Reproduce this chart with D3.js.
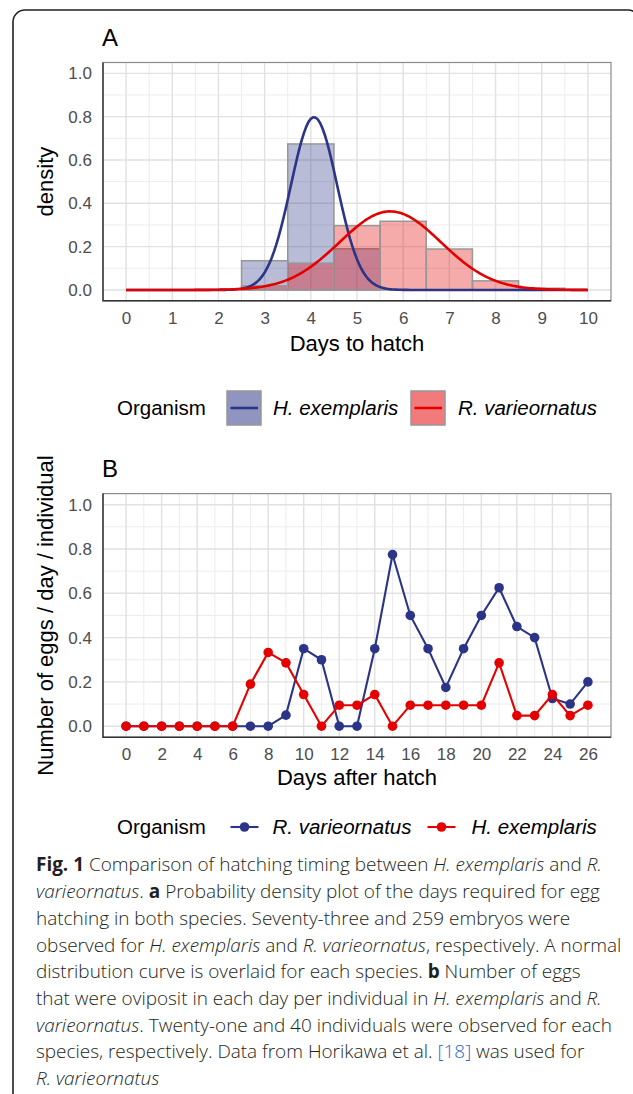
<!DOCTYPE html>
<html>
<head>
<meta charset="utf-8">
<script src="https://cdn.jsdelivr.net/npm/d3@7"></script>
<style>
body{margin:0;background:#fff;}
svg{display:block;}
</style>
</head>
<body>
<svg id="fig" width="633" height="1094"></svg>
<script>
// panel A: histogram bins (centre of each 1-day bin) and densities
var histBins = [3, 4, 5, 6, 7, 8, 9];
var hexDensity = [0.135, 0.674, 0.19, 0, 0, 0, 0];
var rvaDensity = [0.019, 0.124, 0.297, 0.317, 0.189, 0.042, 0.008];
// fitted normal curves (mean, sd): [H. exemplaris, R. varieornatus]
var curveMean = [4.07, 5.72];
var curveSd = [0.5, 1.1];
var ticksA = [0, 1, 2, 3, 4, 5, 6, 7, 8, 9, 10];

// panel B: eggs per day per individual
var days = [0,1,2,3,4,5,6,7,8,9,10,11,12,13,14,15,16,17,18,19,20,21,22,23,24,25,26];
var rvaEggs = [0,0,0,0,0,0,0,0,0,0.05,0.35,0.30,0,0,0.35,0.775,0.50,0.35,0.175,0.35,0.50,0.625,0.45,0.40,0.125,0.10,0.20];
var hexEggs = [0,0,0,0,0,0,0,0.19,0.333,0.286,0.143,0,0.095,0.095,0.143,0,0.095,0.095,0.095,0.095,0.095,0.286,0.048,0.048,0.143,0.048,0.095];
var ticksB = [0, 2, 4, 6, 8, 10, 12, 14, 16, 18, 20, 22, 24, 26];
var ticksY = [0, 0.2, 0.4, 0.6, 0.8, 1.0];

var navy = "#2b3486";
var red = "#e50000";
var font = "'Liberation Sans', Arial, sans-serif";

var svg = d3.select("#fig");

// outer frame of the figure
svg.append("rect")
	.attr("x", 13).attr("y", 10)
	.attr("width", 627).attr("height", 1120)
	.attr("rx", 12)
	.attr("fill", "none")
	.attr("stroke", "#231f20")
	.attr("stroke-width", 1.6);

function drawGrid(x, y, xMajor, xMinor, yMajor, yMinor){
	var x0 = x.range()[0], x1 = x.range()[1];
	var y0 = y.range()[0], y1 = y.range()[1];
	var g = svg.append("g");
	g.append("rect").attr("x", x0).attr("y", y1).attr("width", x1-x0).attr("height", y0-y1).attr("fill", "#fff");
	g.selectAll(".vminor").data(xMinor).enter().append("line")
		.attr("x1", d => x(d)).attr("x2", d => x(d)).attr("y1", y0).attr("y2", y1)
		.attr("stroke", "#ececec").attr("stroke-width", 1);
	g.selectAll(".hminor").data(yMinor).enter().append("line")
		.attr("y1", d => y(d)).attr("y2", d => y(d)).attr("x1", x0).attr("x2", x1)
		.attr("stroke", "#ececec").attr("stroke-width", 1);
	g.selectAll(".vmajor").data(xMajor).enter().append("line")
		.attr("x1", d => x(d)).attr("x2", d => x(d)).attr("y1", y0).attr("y2", y1)
		.attr("stroke", "#e1e1e1").attr("stroke-width", 1.4);
	g.selectAll(".hmajor").data(yMajor).enter().append("line")
		.attr("y1", d => y(d)).attr("y2", d => y(d)).attr("x1", x0).attr("x2", x1)
		.attr("stroke", "#e1e1e1").attr("stroke-width", 1.4);
}

function drawAxes(x, y, xTicks, xFmt){
	var x0 = x.range()[0], x1 = x.range()[1];
	var y0 = y.range()[0], y1 = y.range()[1];
	svg.append("rect").attr("x", x0).attr("y", y1).attr("width", x1-x0).attr("height", y0-y1)
		.attr("fill", "none").attr("stroke", "#8c8c8c").attr("stroke-width", 1.2);
	svg.append("path").attr("d", "M" + x0 + "," + y1 + "V" + y0 + "H" + x1)
		.attr("fill", "none").attr("stroke", "#333").attr("stroke-width", 1.4);
	var ya = svg.append("g").attr("transform", "translate(" + x0 + ",0)")
		.call(d3.axisLeft(y).tickValues(ticksY).tickFormat(d3.format(".1f")).tickSize(0).tickPadding(11));
	var xa = svg.append("g").attr("transform", "translate(0," + y0 + ")")
		.call(d3.axisBottom(x).tickValues(xTicks).tickFormat(xFmt).tickSize(0).tickPadding(11));
	[ya, xa].forEach(function(a){
		a.select(".domain").remove();
		a.selectAll("text").style("font-family", font).style("font-size", "17px").attr("fill", "#4d4d4d");
	});
}

function label(txt, x, y, size, rotate){
	var t = svg.append("text").text(txt)
		.attr("font-family", font).attr("font-size", size).attr("fill", "#000");
	if (rotate){
		t.attr("text-anchor", "middle").attr("transform", "translate(" + x + "," + y + ") rotate(-90)");
	} else {
		t.attr("x", x).attr("y", y);
	}
	return t;
}

// ---------------- panel A ----------------
var xA = d3.scaleLinear().domain([-0.5, 10.5]).range([103, 611]);
var yA = d3.scaleLinear().domain([-0.05, 1.05]).range([300.8, 62.5]);

drawGrid(xA, yA, ticksA, ticksA.slice(0, -1).map(d => d + 0.5), ticksY, [0.1, 0.3, 0.5, 0.7, 0.9]);

function bars(vals, col){
	var rows = histBins.map((b, i) => ({b: b, v: vals[i]})).filter(d => d.v > 0);
	svg.append("g").selectAll("rect").data(rows).enter().append("rect")
		.attr("x", d => xA(d.b - 0.5))
		.attr("width", d => xA(d.b + 0.5) - xA(d.b - 0.5))
		.attr("y", d => yA(d.v))
		.attr("height", d => yA(0) - yA(d.v))
		.attr("fill", col).attr("fill-opacity", 0.33)
		.attr("stroke", "#979797").attr("stroke-width", 1.5);
}
bars(hexDensity, navy);
bars(rvaDensity, red);

var xs = d3.range(0, 10.0001, 0.05);
function normal(m, s){
	return xs.map(v => [v, Math.exp(-0.5 * Math.pow((v - m) / s, 2)) / (s * Math.sqrt(2 * Math.PI))]);
}
var curveLine = d3.line().x(d => xA(d[0])).y(d => yA(d[1]));
[navy, red].forEach(function(c, i){
	svg.append("path").attr("d", curveLine(normal(curveMean[i], curveSd[i])))
		.attr("fill", "none").attr("stroke", c).attr("stroke-width", 2.6);
});

drawAxes(xA, yA, ticksA, d3.format("d"));
label("A", 102, 46, "24px");
label("density", 53, 181.6, "22px", true);
label("Days to hatch", 357, 351, "22px").attr("text-anchor", "middle");

// legend A
label("Organism", 117, 415, "20.5px");
[[227, navy, "H. exemplaris", 273], [411, red, "R. varieornatus", 458]].forEach(function(k){
	svg.append("rect").attr("x", k[0]).attr("y", 391).attr("width", 34).attr("height", 34)
		.attr("fill", k[1]).attr("fill-opacity", 0.52)
		.attr("stroke", "#979797").attr("stroke-width", 1.5);
	svg.append("line").attr("x1", k[0] + 3.5).attr("x2", k[0] + 31).attr("y1", 408).attr("y2", 408)
		.attr("stroke", k[1]).attr("stroke-width", 2.6);
	label(k[2], k[3], 415, "20.5px").attr("font-style", "italic");
});

// ---------------- panel B ----------------
var xB = d3.scaleLinear().domain([-1.3, 27.3]).range([103, 611]);
var yB = d3.scaleLinear().domain([-0.05, 1.05]).range([737.3, 493.6]);

drawGrid(xB, yB, ticksB, days.filter(d => d % 2 == 1), ticksY, [0.1, 0.3, 0.5, 0.7, 0.9]);

var eggLine = d3.line().x((d, i) => xB(days[i])).y(d => yB(d));
[[rvaEggs, navy], [hexEggs, red]].forEach(function(s){
	svg.append("path").attr("d", eggLine(s[0]))
		.attr("fill", "none").attr("stroke", s[1]).attr("stroke-width", 2.1);
	svg.append("g").selectAll("circle").data(s[0]).enter().append("circle")
		.attr("cx", (d, i) => xB(days[i])).attr("cy", d => yB(d)).attr("r", 4.8)
		.attr("fill", s[1]);
});

drawAxes(xB, yB, ticksB, d3.format("d"));
label("B", 102, 477, "24px");
label("Number of eggs / day / individual", 53, 615.5, "22px", true);
label("Days after hatch", 357, 785, "22px").attr("text-anchor", "middle");

// legend B
label("Organism", 117, 834, "20.5px");
[[230.5, navy, "R. varieornatus", 272.5], [427.5, red, "H. exemplaris", 471.5]].forEach(function(k){
	svg.append("line").attr("x1", k[0]).attr("x2", k[0] + 28).attr("y1", 827).attr("y2", 827)
		.attr("stroke", k[1]).attr("stroke-width", 2.1);
	svg.append("circle").attr("cx", k[0] + 14).attr("cy", 827).attr("r", 4.8).attr("fill", k[1]);
	label(k[2], k[3], 834, "20.5px").attr("font-style", "italic");
});

// ---------------- caption ----------------
var caption = [
	[["Fig. 1", "b"], [" Comparison of hatching timing between ", ""], ["H. exemplaris", "i"], [" and ", ""], ["R.", "i"]],
	[["varieornatus", "i"], [". ", ""], ["a", "b"], [" Probability density plot of the days required for egg", ""]],
	[["hatching in both species. Seventy-three and 259 embryos were", ""]],
	[["observed for ", ""], ["H. exemplaris", "i"], [" and ", ""], ["R. varieornatus", "i"], [", respectively. A normal", ""]],
	[["distribution curve is overlaid for each species. ", ""], ["b", "b"], [" Number of eggs", ""]],
	[["that were oviposit in each day per individual in ", ""], ["H. exemplaris", "i"], [" and ", ""], ["R.", "i"]],
	[["varieornatus", "i"], [". Twenty-one and 40 individuals were observed for each", ""]],
	[["species, respectively. Data from Horikawa et al. ", ""], ["[18]", "link"], [" was used for", ""]],
	[["R. varieornatus", "i"]]
];
var capSize = 19;
var capLines = caption.map(function(parts, li){
	var t = svg.append("text").attr("x", 36).attr("y", 871.4 + li * 26.7)
		.attr("font-family", "'Open Sans', sans-serif").attr("font-weight", 300)
		.attr("font-size", capSize).attr("fill", "#231f20");
	parts.forEach(function(p){
		var s = t.append("tspan").text(p[0]);
		if (p[1] == "b") s.attr("font-weight", 700);
		if (p[1] == "i") s.attr("font-style", "italic");
		if (p[1] == "link") s.attr("fill", "#2b6cc4");
	});
	return t;
});
// fit the longest line to the column width
var w4 = capLines[3].node().getComputedTextLength();
capLines.forEach(t => t.attr("font-size", capSize * 586 / w4));
</script>
</body>
</html>
